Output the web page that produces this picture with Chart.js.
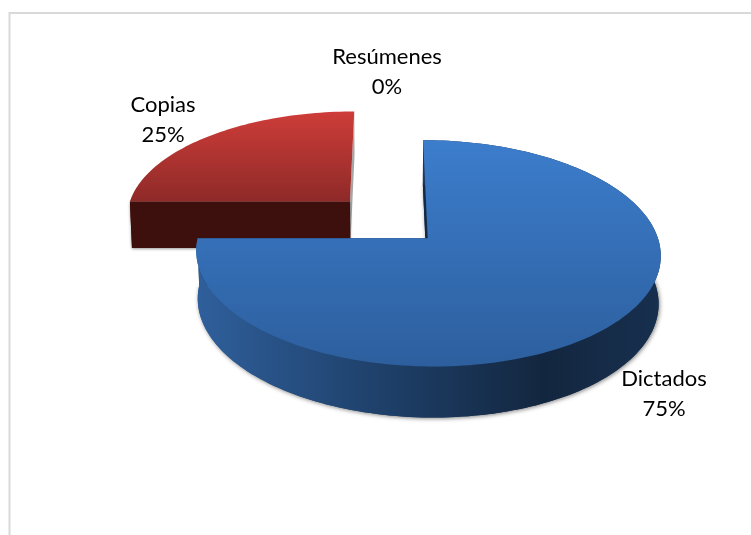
<!DOCTYPE html>
<html>
<head>
<meta charset="utf-8">
<script src="https://cdn.jsdelivr.net/npm/chart.js@4"></script>
<style>
  html, body { margin: 0; padding: 0; background: #fff; }
  canvas { display: block; }
</style>
</head>
<body>
<canvas id="chart" width="751" height="535"></canvas>
<script>
const categories = ['Dictados', 'Copias', 'Resúmenes']
const shares = [75, 25, 0]
const sliceColors = ['#3368aa', '#a8312e', '#9bbb59']

// where each label block is centred, in canvas pixels
const labelCentres = [[664, 394], [163, 120], [387, 72]]

const tilt = 0.472
const persp = 0.13
const depth = 47
const taper = 0.008

// a point on the pie plane (in radius units from the centre) to canvas pixels
function project(arc, X, Y, z) {
  const w = 1 - persp * Y
  const R = arc.outerRadius
  let x = R * X / w
  let y = R * tilt * Y / w
  if (z) {
    x = x * (1 - taper)
    y = y + depth / Math.sqrt(w)
  }
  return [arc.x + x, arc.y + y]
}

function rimPoints(arc, cx, cy, z) {
  const pts = []
  const steps = Math.max(8, Math.round((arc.endAngle - arc.startAngle) * 40))
  for (let i = 0; i <= steps; i++) {
    const a = arc.startAngle + (arc.endAngle - arc.startAngle) * i / steps
    pts.push(project(arc, cx + Math.cos(a), cy + Math.sin(a), z))
  }
  return pts
}

function poly(ctx, pts) {
  ctx.beginPath()
  pts.forEach((p, i) => i ? ctx.lineTo(p[0], p[1]) : ctx.moveTo(p[0], p[1]))
  ctx.closePath()
}

function drawSlice(ctx, arc, index) {
  const mid = (arc.startAngle + arc.endAngle) / 2
  const cx = arc.options.offset * Math.cos(mid) / arc.outerRadius
  const cy = arc.options.offset * Math.sin(mid) / arc.outerRadius
  const top = rimPoints(arc, cx, cy, 0)
  const low = rimPoints(arc, cx, cy, 1)
  const apex = project(arc, cx, cy, 0)
  const apexLow = project(arc, cx, cy, 1)

  let wall, face
  if (index === 0) {
    wall = ctx.createLinearGradient(197, 0, 661, 0)
    wall.addColorStop(0, '#2f5f9b')
    wall.addColorStop(0.4, '#1e4069')
    wall.addColorStop(0.75, '#13263f')
    wall.addColorStop(1, '#17304f')
    face = ctx.createLinearGradient(0, 140, 0, 366)
    face.addColorStop(0, '#3c7dcc')
    face.addColorStop(1, '#2d5f9e')
  } else {
    wall = '#3d100e'
    face = ctx.createLinearGradient(0, 110, 0, 201)
    face.addColorStop(0, '#cf3d39')
    face.addColorStop(1, '#8e2a28')
  }

  // extruded body with its soft shadow, then the cut walls, then the top
  if (index === 0) {
    ctx.save()
    ctx.shadowColor = 'rgba(0,0,0,0.5)'
    ctx.shadowBlur = 4
    ctx.shadowOffsetX = 1
    ctx.shadowOffsetY = 1
    ctx.fillStyle = wall
    poly(ctx, [apexLow].concat(low))
    ctx.fill()
    ctx.restore()
  }

  // the wall on the end of the slice: navy on the blue one, only a grey shade on the red one
  ctx.fillStyle = index === 0 ? '#122a48' : '#a6a6a6'
  poly(ctx, [apex, top[top.length - 1], low[low.length - 1], apexLow])
  ctx.fill()
  if (index === 1) {
    ctx.save()
    ctx.shadowColor = 'rgba(0,0,0,0.4)'
    ctx.shadowBlur = 3
    ctx.shadowOffsetY = 1
    ctx.fillStyle = '#3d100e'
    poly(ctx, [apex, top[0], low[0], apexLow])
    ctx.fill()
    ctx.restore()
  }
  ctx.fillStyle = index === 0 ? '#122a48' : '#3d100e'
  poly(ctx, [apex, top[0], low[0], apexLow])
  ctx.fill()

  if (index === 0) {
    ctx.fillStyle = wall
    poly(ctx, top.concat(low.slice().reverse()))
    ctx.fill()
  }

  ctx.fillStyle = face
  poly(ctx, [apex].concat(top))
  ctx.fill()
}

const pie3d = {
  id: 'pie3d',
  beforeDraw(chart) {
    // frame of the chart area, cut off by the picture on the right and bottom
    const ctx = chart.ctx
    ctx.save()
    ctx.strokeStyle = '#d9d9d9'
    ctx.lineWidth = 2
    ctx.beginPath()
    ctx.moveTo(9.5, 536)
    ctx.lineTo(9.5, 13)
    ctx.lineTo(752, 13)
    ctx.stroke()
    ctx.restore()
  },
  beforeDatasetDraw(chart) {
    const ctx = chart.ctx
    const arcs = chart.getDatasetMeta(0).data
    ctx.save()
    // back slices first so the front one overlaps them
    ;[1, 0].forEach(i => {
      if (arcs[i].endAngle > arcs[i].startAngle) drawSlice(ctx, arcs[i], i)
    })
    ctx.restore()
    return false
  },
  afterDatasetsDraw(chart) {
    const ctx = chart.ctx
    ctx.save()
    ctx.fillStyle = '#000'
    ctx.font = '22px Lato'
    ctx.textAlign = 'center'
    ctx.textBaseline = 'middle'
    categories.forEach((name, i) => {
      const [x, y] = labelCentres[i]
      ctx.fillText(name, x, y - 15)
      ctx.fillText(shares[i] + '%', x, y + 15)
    })
    ctx.restore()
  }
}

new Chart(document.getElementById('chart'), {
  type: 'pie',
  data: {
    labels: categories,
    datasets: [{
      data: shares,
      backgroundColor: sliceColors,
      borderWidth: 0,
      offset: 55,
      radius: 225
    }]
  },
  options: {
    responsive: false,
    animation: false,
    layout: { padding: { left: 25, bottom: 96 } },
    plugins: { legend: { display: false }, tooltip: { enabled: false } }
  },
  plugins: [pie3d]
})
</script>
</body>
</html>
